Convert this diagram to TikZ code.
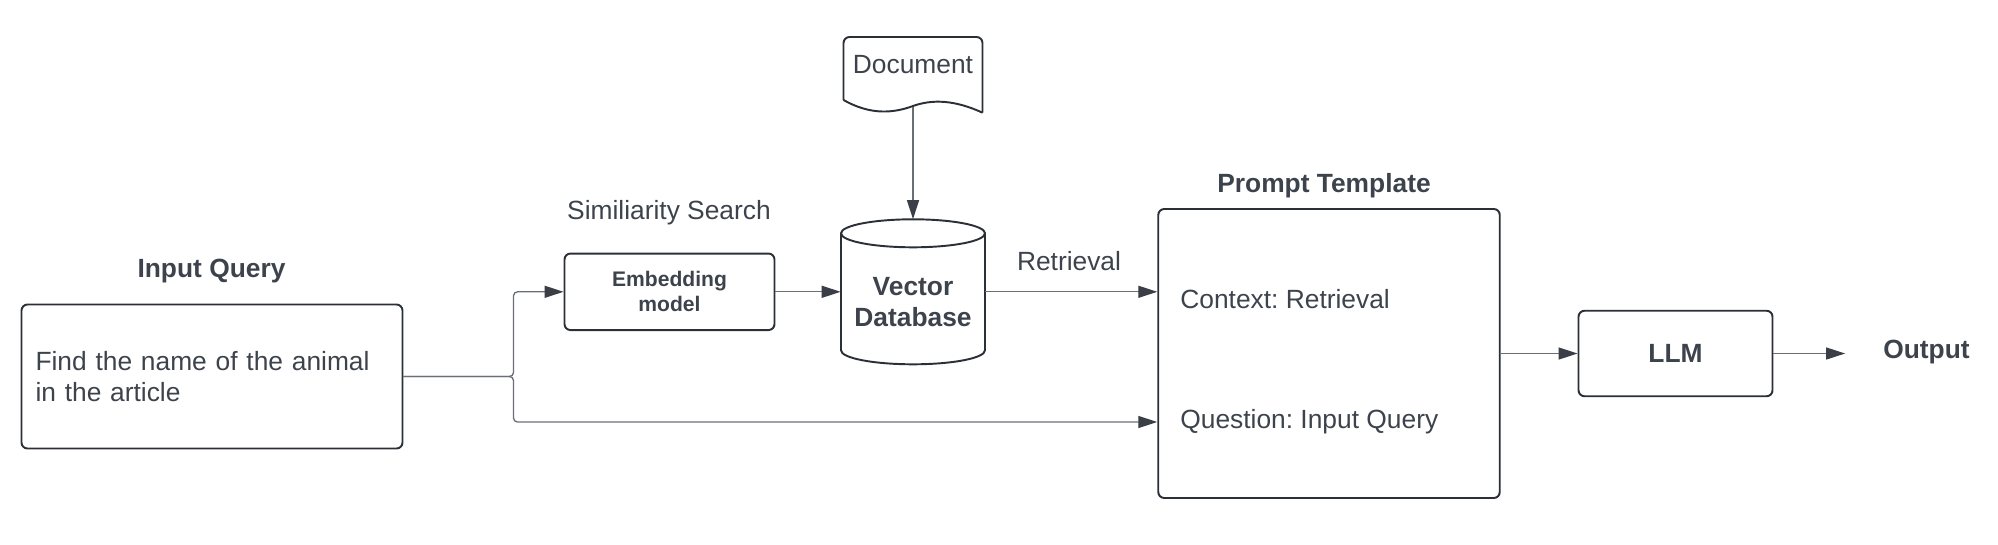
\documentclass[tikz,border=0pt]{standalone}
\usepackage{fontspec}
\setmainfont{Liberation Sans}
\frenchspacing
\usetikzlibrary{arrows.meta,positioning}

\definecolor{inkgray}{HTML}{3D434C}
\definecolor{boxgray}{HTML}{2B2F36}
\definecolor{wiregray}{HTML}{6A6E75}
\definecolor{tipgray}{HTML}{3A3F47}

\tikzset{
	every node/.style={text=inkgray, font=\fontsize{15}{18}\selectfont},
	box/.style={draw=boxgray, line width=1.1pt, rounded corners=0.12cm},
	boxline/.style={draw=boxgray, line width=1.1pt},
	heading/.style={font=\fontsize{15}{18}\selectfont\bfseries},
	link/.style={draw=wiregray, line width=0.75pt,
		-{Triangle[length=0.38cm, width=0.24cm, color=tipgray]}},
}

\begin{document}
\begin{tikzpicture}
				\useasboundingbox (0,0) rectangle (39.96,-10.88);
				% Query
				\node[box, minimum width=7.62cm, minimum height=2.88cm, inner xsep=0.28cm,
					text width=7.06cm, align=left] (input) at (4.24,-7.53)
					{Find the name of the animal\\in the article};
				\node[heading] (inputlbl) at (4.23,-5.43) {Input Query};
				\coordinate (split) at (10.27,-7.53);
				% Embedding
				\node[box, minimum width=4.2cm, minimum height=1.53cm, align=center,
					font=\fontsize{12}{14.2}\selectfont\bfseries] (embed) at (13.39,-5.836)
					{Embedding\\model};
				\node (simlbl) at (13.38,-4.26) {Similiarity Search};
				% Document
				\draw[boxline, rounded corners=0.12cm] (16.87,-2.0) -- (16.87,-0.74) -- (19.65,-0.74) -- (19.65,-2.254);
				\draw[boxline] (19.65,-2.254) .. controls (19.1,-2.0) and (18.65,-1.98) .. (18.26,-2.12)
					.. controls (17.85,-2.27) and (17.4,-2.3) .. (16.87,-2.0);
				\node (doc) at (18.26,-1.3) {Document};
				\coordinate (docend) at (18.26,-2.13);
				% Vector database
				\node[minimum width=2.88cm, minimum height=3.3cm, align=center, heading] (db) at (18.26,-6.04)
					{Vector\\Database};
				\draw[boxline] (16.82,-4.666) -- (16.82,-7.006) arc[start angle=180, end angle=360, x radius=1.44cm, y radius=0.28cm]
					-- (19.70,-4.666) arc[start angle=0, end angle=180, x radius=1.44cm, y radius=0.28cm];
				\draw[boxline] (16.82,-4.666) arc[start angle=180, end angle=360, x radius=1.44cm, y radius=0.28cm];
				\node (retlbl) at (21.38,-5.22) {Retrieval};
				% Prompt
				\node[box, minimum width=6.83cm, minimum height=5.78cm] (prompt) at (26.58,-7.07) {};
				\node[heading] (promptlbl) at (26.48,-3.72) {Prompt Template};
				\node[anchor=west, inner xsep=0pt] (ctx) at (23.6,-5.99) {Context: Retrieval};
				\node[anchor=west, inner xsep=0pt] (qst) at (23.6,-8.44) {Question: Input Query};
				% Model
				\node[box, minimum width=3.88cm, minimum height=1.71cm, heading] (llm) at (33.51,-7.07) {LLM};
				\node[heading] (out) at (38.53,-7.04) {Output};

				% Links
				\draw[link, rounded corners=0.08cm] (input.east) -- (split) |- (embed.west);
				\draw[link, rounded corners=0.08cm] (input.east) -- (split) |- (qst.west -| prompt.west);
				\draw[link] (embed.east) -- (embed.east -| db.west);
				\draw[link] (docend) -- (db.north);
				\draw[link] (embed.east -| db.east) -- (embed.east -| prompt.west);
				\draw[link] (prompt.east |- llm.west) -- (llm.west);
				\draw[link, shorten >=0.64cm] (llm.east) -- (llm.east -| out.west);
			\end{tikzpicture}
\end{document}
